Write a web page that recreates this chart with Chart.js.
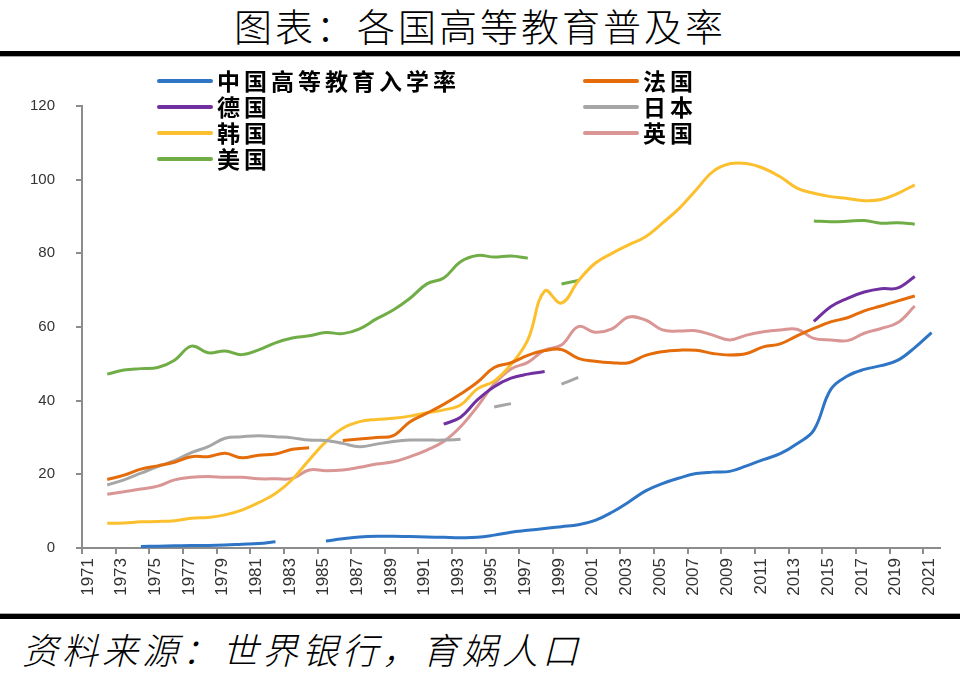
<!DOCTYPE html>
<html>
<head>
<meta charset="utf-8">
<script src="https://cdn.jsdelivr.net/npm/chart.js@4.4.0/dist/chart.umd.min.js"></script>
<style>
html, body { margin: 0; padding: 0; background: #fff; }
body { width: 960px; height: 676px; position: relative; overflow: hidden; font-family: "Noto Sans CJK SC", sans-serif; }
#title { position: absolute; left: 0; top: 2px; width: 960px; text-align: center; font-size: 38px; line-height: 46px; letter-spacing: 3px; font-weight: 300; color: #000; }
.bar { position: absolute; left: 0; width: 960px; height: 5px; background: #000; }
#topbar { top: 51px; border-bottom: 1px solid #aaa; }
#botbar { top: 613px; border-top: 1px solid #aaa; }
#wrap { position: absolute; left: 0; top: 58px; width: 960px; height: 554px; }
#src { position: absolute; left: 22px; top: 625px; font-size: 36px; line-height: 46px; font-style: italic; font-weight: 300; letter-spacing: 4px; color: #000; }
</style>
</head>
<body>
<div id="title">图表：各国高等教育普及率</div>
<div class="bar" id="topbar"></div>
<div id="wrap"><canvas id="myChart" width="960" height="554"></canvas></div>
<div class="bar" id="botbar"></div>
<div id="src">资料来源：世界银行，育娲人口</div>
<script>
const years = [1971,1972,1973,1974,1975,1976,1977,1978,1979,1980,
  1981,1982,1983,1984,1985,1986,1987,1988,1989,1990,
  1991,1992,1993,1994,1995,1996,1997,1998,1999,2000,
  2001,2002,2003,2004,2005,2006,2007,2008,2009,2010,
  2011,2012,2013,2014,2015,2016,2017,2018,2019,2020,2021];
const xTickLabels = ['1971','1973','1975','1977','1979','1981','1983','1985','1987','1989',
  '1991','1993','1995','1997','1999','2001','2003','2005','2007','2009',
  '2011','2013','2015','2017','2019','2021'];

// 中国高等教育入学率
const china = [null,null,null,0.4,0.5,0.6,0.7,0.7,0.8,1.0,
  1.2,1.7,null,null,1.9,2.5,3.0,3.2,3.2,3.1,
  3.0,2.9,2.8,2.9,3.5,4.3,4.8,5.3,5.8,6.3,
  7.5,9.7,12.5,15.5,17.5,19.0,20.2,20.6,20.8,22.3,
  24.0,25.6,28.3,32.0,43.0,46.7,48.5,49.5,51.0,54.4,58.5];
const france = [null,18.6,19.8,21.4,22.3,23.3,24.8,24.8,25.7,24.5,
  25.2,25.5,26.8,27.2,null,29.2,29.6,30.0,30.5,34.3,
  36.6,39.0,41.8,45.0,49.0,50.3,52.3,53.6,53.9,51.5,
  50.7,50.3,50.3,52.3,53.3,53.7,53.7,52.8,52.4,52.8,
  54.6,55.4,57.6,59.6,61.4,62.5,64.4,65.7,67.1,68.4,null];
const germany = [null,null,null,null,null,null,null,null,null,null,
  null,null,null,null,null,null,null,null,null,null,
  null,33.6,35.5,40.2,43.8,46.1,47.2,47.9,null,null,
  null,null,null,null,null,null,null,null,null,null,
  null,null,null,61.5,65.5,67.8,69.5,70.4,70.6,73.7,null];
const japan = [null,17.1,18.5,20.3,22.1,23.7,25.9,27.5,29.8,30.2,
  30.5,30.2,29.9,29.3,29.2,28.4,27.5,28.2,28.9,29.3,
  29.3,29.3,29.5,null,38.3,39.2,null,null,44.5,46.3,
  null,null,null,null,null,null,null,null,null,null,
  null,null,null,null,null,null,null,null,null,null,null];
const korea = [null,6.7,6.8,7.1,7.2,7.4,8.1,8.3,9.0,10.3,
  12.3,14.8,18.6,23.9,28.9,32.5,34.3,34.9,35.2,35.8,
  36.7,37.5,38.8,43.2,45.3,49.8,56.5,69.8,66.5,72.5,
  77.3,80.0,82.3,84.5,88.2,92.2,97.2,102.2,104.3,104.4,
  103.1,100.8,97.7,96.3,95.4,94.9,94.3,94.6,96.3,98.6,null];
const uk = [null,14.6,15.3,16.0,16.8,18.5,19.2,19.4,19.2,19.2,
  18.8,18.8,18.9,21.2,21.0,21.2,21.9,22.8,23.4,24.8,
  26.6,28.9,32.9,38.4,44.5,48.6,50.4,53.7,55.1,60.1,
  58.6,59.5,62.7,61.9,59.2,58.9,59.0,57.8,56.5,57.8,
  58.7,59.2,59.4,56.9,56.5,56.3,58.3,59.6,61.2,65.7,null];
const usa = [null,47.2,48.3,48.7,49.0,51.0,54.8,53.0,53.5,52.5,
  53.8,55.7,57.0,57.6,58.5,58.2,59.5,62.2,64.6,67.8,
  71.7,73.3,77.7,79.4,79.0,79.3,78.7,null,71.7,72.6,
  null,null,null,null,null,null,null,null,null,null,
  null,null,null,88.8,88.6,88.7,88.9,88.2,88.3,87.9,null];

const seriesNames = ['中国高等教育入学率','法国','德国','日本','韩国','英国','美国'];
const seriesValues = [china, france, germany, japan, korea, uk, usa];
const seriesColors = ['#2e75c6','#e46c0a','#7030a0','#a6a6a6','#fcc02e','#d99694','#70ad47'];

const toPoints = arr => arr.map((v, i) => ({ x: years[i], y: v }));

// 两列图例
const gridLegend = {
  id: 'gridLegend',
  afterDraw(chart) {
    const ctx = chart.ctx;
    ctx.save();
    ctx.font = 'bold 23px "Noto Sans CJK SC"';
    ctx.textBaseline = 'middle';
    ctx.letterSpacing = '4px';
    chart.data.datasets.forEach((ds, i) => {
      const col = i % 2, row = Math.floor(i / 2);
      const lx = col ? 585 : 159;
      const y = 23 + row * 26;
      ctx.strokeStyle = ds.borderColor;
      ctx.lineWidth = 4;
      ctx.lineCap = 'round';
      ctx.beginPath();
      ctx.moveTo(lx, y);
      ctx.lineTo(lx + 52, y);
      ctx.stroke();
      ctx.fillStyle = '#000';
      ctx.fillText(ds.label, lx + 58, y);
    });
    ctx.restore();
  }
};

const axisGray = '#8c8c8c';
const ctx = document.getElementById('myChart').getContext('2d');
const myChart = new Chart(ctx, {
  type: 'line',
  data: {
    datasets: seriesNames.map((name, i) => ({
      label: name,
      data: toPoints(seriesValues[i]),
      borderColor: seriesColors[i],
      backgroundColor: seriesColors[i],
      borderWidth: 3,
      pointRadius: 0,
      tension: 0.4,
      spanGaps: false,
      fill: false
    }))
  },
  options: {
    responsive: false,
    animation: false,
    devicePixelRatio: 1,
    layout: { padding: { top: 48, right: 20, left: 0, bottom: 0 } },
    plugins: { legend: { display: false }, tooltip: { enabled: false } },
    scales: {
      x: {
        type: 'linear',
        min: 1970.5,
        max: 2021.5,
        afterBuildTicks: s => { s.ticks = xTickLabels.map(t => ({ value: Number(t) - 0.5 })); },
        afterFit: s => { s.height = 64; },
        border: { color: axisGray, width: 2 },
        grid: { drawOnChartArea: false, tickLength: 6, color: axisGray, lineWidth: 2 },
        ticks: {
          autoSkip: false,
          minRotation: 90,
          maxRotation: 90,
          labelOffset: 6,
          padding: 4,
          color: '#333',
          font: { family: 'Liberation Sans', size: 17 },
          callback: v => String(v + 0.5)
        }
      },
      y: {
        min: 0,
        max: 120,
        afterFit: s => { s.width = 82; },
        border: { color: axisGray, width: 2 },
        grid: { drawOnChartArea: false, tickLength: 6, color: axisGray, lineWidth: 2 },
        ticks: {
          stepSize: 20,
          padding: 21,
          color: '#333',
          font: { family: 'Liberation Sans', size: 15 }
        }
      }
    }
  },
  plugins: [gridLegend]
});
</script>
</body>
</html>
